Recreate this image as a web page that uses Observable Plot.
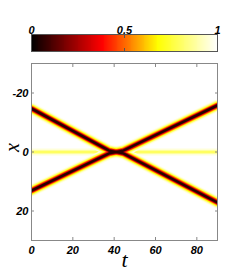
<!DOCTYPE html>
<html><head><meta charset="utf-8">
<script src="https://cdn.jsdelivr.net/npm/d3@7"></script>
<script src="https://cdn.jsdelivr.net/npm/@observablehq/plot@0.6"></script>
<style>
body{margin:0;background:#fff;}
#c{width:240px;height:273px;overflow:hidden;}
#c svg{display:block;}
</style>
</head><body><div id="c"></div>
<script>
// colour map (hot-like)
const colorStops = [0, 0.38, 0.68, 1];
const colorNames = ["black", "red", "yellow", "white"];
const cbTicks = [0, 0.5, 1];
// axes
const tTicks = [0, 20, 40, 60, 80];
const xTicks = [-20, 0, 20];
// soliton trajectories (merge briefly during the collision)
const trackT = [0, 37.5, 44.5, 90];
const trackA = [-14.7, -0.5, 0.5, 17.1];
const trackB = [13.1, 0.5, -0.5, -15.8];
// stationary (faint) component
const flatT = [0, 90];
const flatX = [0, 0];
// intensity levels drawn from the edge of each beam to its core
const solitonLevels = [0.97, 0.9, 0.8, 0.68, 0.55, 0.4, 0.24, 0.06];
const flatLevels = [0.97, 0.9, 0.8];

const solitonWidths = [12, 10.2, 8.6, 7.2, 5.9, 4.7, 3.5, 2.3];
const flatWidths = [7.5, 4.6, 2.3];

const rows = [];
trackT.forEach((t, i) => { rows.push({track: "A", t, x: trackA[i]}); });
trackT.forEach((t, i) => { rows.push({track: "B", t, x: trackB[i]}); });
const flatRows = flatT.map((t, i) => ({t, x: flatX[i]}));

const color = {type: "linear", domain: colorStops, range: colorNames, interpolate: "rgb"};
const tickFont = {fontSize: 11, fontWeight: "bold", fontStyle: "italic", fontFamily: "Liberation Sans, Arial, sans-serif"};

const cbStep = 1 / 200;
const cbSteps = d3.range(0, 1, cbStep);
const cb = Plot.plot({
  width: 240, height: 57,
  marginLeft: 31, marginRight: 23, marginTop: 34, marginBottom: 6,
  x: {domain: [0, 1]},
  color,
  style: {background: "white", overflow: "visible"},
  marks: [
    Plot.rect(cbSteps, {x1: d => d, x2: d => Math.min(1, d + 2 * cbStep), fill: d => d, shapeRendering: "crispEdges"}),
    Plot.frame({stroke: "#555"}),
    Plot.axisX(cbTicks, {anchor: "top", tickSize: 0, tickPadding: 1, label: null, ...tickFont,
      tickFormat: d => String(d)}),
    Plot.axisX(cbTicks, {anchor: "top", tickSize: -3, tickFormat: () => "", label: null, stroke: "#555"}),
    Plot.axisX(cbTicks, {anchor: "bottom", tickSize: -3, tickFormat: () => "", label: null, stroke: "#555"})
  ]
});

const main = Plot.plot({
  width: 240, height: 216,
  marginLeft: 31, marginRight: 23, marginTop: 6, marginBottom: 33,
  x: {domain: [0, 90]},
  y: {domain: [-30, 30], reverse: true},
  color,
  style: {background: "white", overflow: "visible"},
  marks: [
    ...flatLevels.map((lv, i) => Plot.line(flatRows, {x: "t", y: "x", stroke: () => lv, strokeWidth: flatWidths[i], clip: true})),
    ...solitonLevels.map((lv, i) => Plot.line(rows, {x: "t", y: "x", z: "track", stroke: () => lv, strokeWidth: solitonWidths[i], clip: true})),
    Plot.frame({stroke: "#888"}),
    Plot.axisX(tTicks, {anchor: "bottom", tickSize: 0, tickPadding: 6, label: null, ...tickFont}),
    Plot.axisX(tTicks, {anchor: "bottom", tickSize: -3, tickFormat: () => "", label: null, stroke: "#888"}),
    Plot.axisX(tTicks, {anchor: "top", tickSize: -3, tickFormat: () => "", label: null, stroke: "#888"}),
    Plot.axisY(xTicks, {anchor: "left", tickSize: 0, tickPadding: 3, label: null, ...tickFont, tickFormat: d => String(d)}),
    Plot.axisY(xTicks, {anchor: "left", tickSize: -3, tickFormat: () => "", label: null, stroke: "#888"}),
    Plot.axisY(xTicks, {anchor: "right", tickSize: -3, tickFormat: () => "", label: null, stroke: "#888"}),
    Plot.text(["t"], {frameAnchor: "bottom", dy: 26, fontSize: 22, fontStyle: "italic", fontFamily: "Liberation Serif, serif"}),
    Plot.text(["x"], {frameAnchor: "left", dx: -19, rotate: -90, fontSize: 20, fontStyle: "italic", fontFamily: "Liberation Serif, serif"})
  ]
});

document.getElementById("c").append(cb, main);
</script>
</body></html>
